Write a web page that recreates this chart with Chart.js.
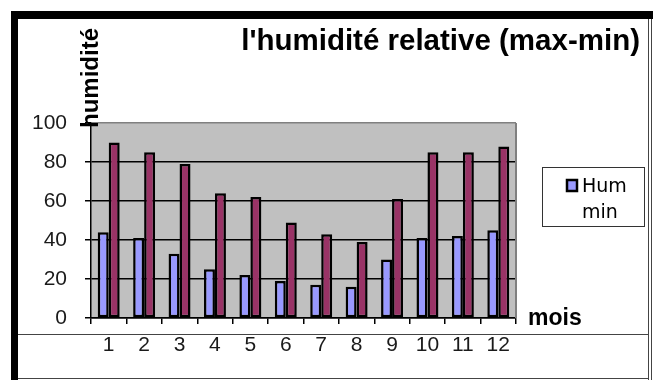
<!DOCTYPE html>
<html>
<head>
<meta charset="utf-8">
<script src="https://cdn.jsdelivr.net/npm/chart.js@4"></script>
<style>
  html, body { margin: 0; padding: 0; background: #fff; }
  #wrap { width: 653px; height: 380px; }
</style>
</head>
<body>
<div id="wrap"><canvas id="myChart" width="653" height="380"></canvas></div>
<script>
const months = ["1", "2", "3", "4", "5", "6", "7", "8", "9", "10", "11", "12"];
const humMin = [44, 41, 33, 25, 22, 19, 17, 16, 30, 41, 42, 45];
const humMax = [90, 85, 79, 64, 62, 49, 43, 39, 61, 85, 85, 88];
const yTicks = [0, 20, 40, 60, 80, 100];

const titleText = "l'humidité relative (max-min)";
const yTitle = "humidité";
const xTitle = "mois";

// frame, plot background, titles and the one-entry legend
const decorations = {
  id: "decorations",
  beforeDraw: (chart) => {
    const { ctx, chartArea: a } = chart;
    ctx.save();
    ctx.fillStyle = "#fff";
    ctx.fillRect(0, 0, chart.width, chart.height);
    ctx.fillStyle = "#c0c0c0";
    ctx.fillRect(a.left, a.top, a.right - a.left, a.bottom - a.top);
    ctx.restore();
  },
  afterDraw: (chart) => {
    const { ctx, chartArea: a } = chart;
    ctx.save();

    // grey right edge of the plot area
    ctx.strokeStyle = "#808080";
    ctx.lineWidth = 2;
    ctx.beginPath();
    ctx.moveTo(a.right, a.top);
    ctx.lineTo(a.right, a.bottom);
    ctx.stroke();

    // outer frame
    ctx.fillStyle = "#000";
    ctx.fillRect(11, 11, 642, 8);
    ctx.fillRect(11, 11, 7, 369);
    ctx.strokeStyle = "#444";
    ctx.lineWidth = 1;
    ctx.beginPath();
    ctx.moveTo(648.5, 19); ctx.lineTo(648.5, 380);
    ctx.moveTo(651.5, 19); ctx.lineTo(651.5, 380);
    ctx.moveTo(18, 334.5); ctx.lineTo(648, 334.5);
    ctx.moveTo(18, 378.5); ctx.lineTo(648, 378.5);
    ctx.stroke();

    // chart title
    ctx.fillStyle = "#000";
    ctx.font = "bold 29.5px 'Liberation Sans', Arial, sans-serif";
    ctx.textAlign = "right";
    ctx.textBaseline = "alphabetic";
    ctx.fillText(titleText, 640, 50);

    // axis titles
    ctx.font = "bold 23px 'Liberation Sans', Arial, sans-serif";
    ctx.textAlign = "left";
    ctx.fillText(xTitle, 528, 325);

    ctx.save();
    ctx.translate(98, 128);
    ctx.rotate(-Math.PI / 2);
    ctx.font = "bold 24px 'Liberation Sans', Arial, sans-serif";
    ctx.fillText(yTitle, 0, 0);
    ctx.restore();

    // legend box
    ctx.fillStyle = "#fff";
    ctx.fillRect(542, 167, 102, 59);
    ctx.strokeStyle = "#333";
    ctx.lineWidth = 1;
    ctx.strokeRect(542.5, 167.5, 102, 59);

    const ds = chart.data.datasets[0];
    ctx.fillStyle = ds.backgroundColor;
    ctx.fillRect(567, 180, 10, 11);
    ctx.strokeStyle = "#000";
    ctx.lineWidth = 2.5;
    ctx.strokeRect(567, 180, 10, 11);

    ctx.fillStyle = "#000";
    ctx.font = "19px 'DejaVu Sans', Verdana, sans-serif";
    ds.label.split(" ").forEach((line, i) => {
      ctx.fillText(line, 582, 192 + i * 26);
    });

    ctx.restore();
  },
};

const ctx = document.getElementById("myChart").getContext("2d");
const myChart = new Chart(ctx, {
  type: "bar",
  data: {
    labels: months,
    datasets: [
      {
        label: "Hum min",
        data: humMin,
        backgroundColor: "#9999ff",
        borderColor: "#000",
        borderWidth: 2.5,
        borderSkipped: false,
      },
      {
        label: "Hum max",
        data: humMax,
        backgroundColor: "#993366",
        borderColor: "#000",
        borderWidth: 2.5,
        borderSkipped: false,
      },
    ],
  },
  options: {
    responsive: false,
    animation: false,
    devicePixelRatio: 1,
    layout: { padding: { top: 123, right: 137, left: 0, bottom: 0 } },
    datasets: { bar: { categoryPercentage: 0.62, barPercentage: 1 } },
    plugins: {
      legend: { display: false },
      title: { display: false },
      tooltip: { enabled: false },
    },
    scales: {
      x: {
        afterFit: (scale) => { scale.height = 62; },
        grid: {
          offset: true,
          drawOnChartArea: false,
          tickLength: 6,
          color: "#000",
          lineWidth: 1.5,
        },
        border: { color: "#000", width: 1.5 },
        ticks: {
          color: "#1a1a1a",
          font: { family: "'Liberation Sans', Arial, sans-serif", size: 21 },
          padding: 9,
          maxRotation: 0,
          autoSkip: false,
        },
      },
      y: {
        min: 0,
        max: 100,
        afterFit: (scale) => { scale.width = 91; },
        afterBuildTicks: (scale) => {
          scale.ticks = yTicks.map((v) => ({ value: v }));
        },
        grid: {
          color: (c) => (c.tick && c.tick.value === 100 ? "#808080" : "#000"),
          tickColor: "#000",
          tickLength: 6,
          lineWidth: 1.5,
        },
        border: { color: "#000", width: 1.5 },
        ticks: {
          color: "#1a1a1a",
          font: { family: "'Liberation Sans', Arial, sans-serif", size: 21 },
          padding: 18,
        },
      },
    },
  },
  plugins: [decorations],
});
</script>
</body>
</html>
